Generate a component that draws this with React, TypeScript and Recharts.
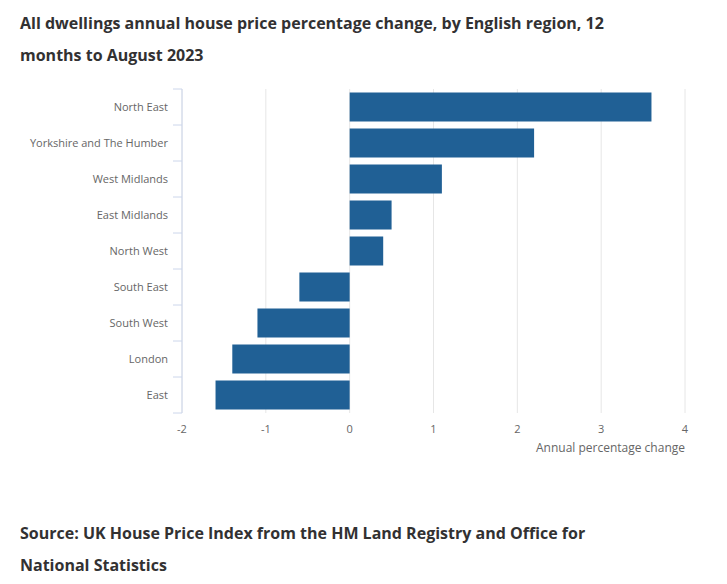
import { Bar, BarChart, CartesianGrid, XAxis, YAxis } from "recharts";

const REGIONS = [
  "North East",
  "Yorkshire and The Humber",
  "West Midlands",
  "East Midlands",
  "North West",
  "South East",
  "South West",
  "London",
  "East",
];
const CHANGE = [3.6, 2.2, 1.1, 0.5, 0.4, -0.6, -1.1, -1.4, -1.6];
const X_TICKS = [-2, -1, 0, 1, 2, 3, 4];

const COLORS = {
  bar: "#206095",
  grid: "#e6e6e6",
  axisLine: "#ccd6eb",
  label: "#666666",
  title: "#323132",
};

const FONT = "'Open Sans', sans-serif";

const rows = REGIONS.map((region, i) => ({ region, change: CHANGE[i] }));

// category labels with boundary tick marks like the source chart
function RegionTick(props: any) {
  const { x, y, payload, index } = props;
  const half = 18;
  return (
    <g>
      <line x1={x - 9} x2={x} y1={y - half} y2={y - half} stroke={COLORS.axisLine} />
      {index === REGIONS.length - 1 && (
        <line x1={x - 9} x2={x} y1={y + half} y2={y + half} stroke={COLORS.axisLine} />
      )}
      <text
        x={x - 14}
        y={y}
        dy={4}
        textAnchor="end"
        fill={COLORS.label}
        fontSize={11}
        fontFamily={FONT}
      >
        {payload.value}
      </text>
    </g>
  );
}

export default function App() {
  const titleStyle = {
    position: "absolute" as const,
    left: 20,
    fontFamily: FONT,
    fontWeight: 700,
    fontSize: 16,
    lineHeight: "32px",
    color: COLORS.title,
    margin: 0,
  };
  return (
    <div
      style={{
        position: "absolute",
        top: 0,
        left: 0,
        width: 727,
        height: 584,
        background: "#fff",
      }}
    >
      <div style={{ ...titleStyle, top: 7 }}>
        All dwellings annual house price percentage change, by English region, 12
        <br />
        months to August 2023
      </div>
      <div style={{ position: "absolute", top: 0, left: 0 }}>
        <BarChart
          width={727}
          height={460}
          data={rows}
          layout="vertical"
          barCategoryGap="10%"
          margin={{ top: 89, right: 42, bottom: 17, left: 0 }}
        >
          <CartesianGrid horizontal={false} stroke={COLORS.grid} />
          <XAxis
            type="number"
            domain={[-2, 4]}
            ticks={X_TICKS}
            height={30}
            axisLine={false}
            tickLine={false}
            tick={{ fill: COLORS.label, fontSize: 11, fontFamily: FONT }}
            tickMargin={6}
          />
          <YAxis
            type="category"
            dataKey="region"
            width={182}
            axisLine={{ stroke: COLORS.axisLine }}
            tickLine={false}
            tickSize={0}
            tickMargin={0}
            tick={<RegionTick />}
            interval={0}
          />
          <Bar dataKey="change" fill={COLORS.bar} isAnimationActive={false} />
        </BarChart>
      </div>
      <div
        style={{
          position: "absolute",
          top: 439,
          right: 42,
          fontFamily: FONT,
          fontSize: 12,
          color: COLORS.label,
        }}
      >
        Annual percentage change
      </div>
      <div style={{ ...titleStyle, top: 517 }}>
        Source: UK House Price Index from the HM Land Registry and Office for
        <br />
        National Statistics
      </div>
    </div>
  );
}
